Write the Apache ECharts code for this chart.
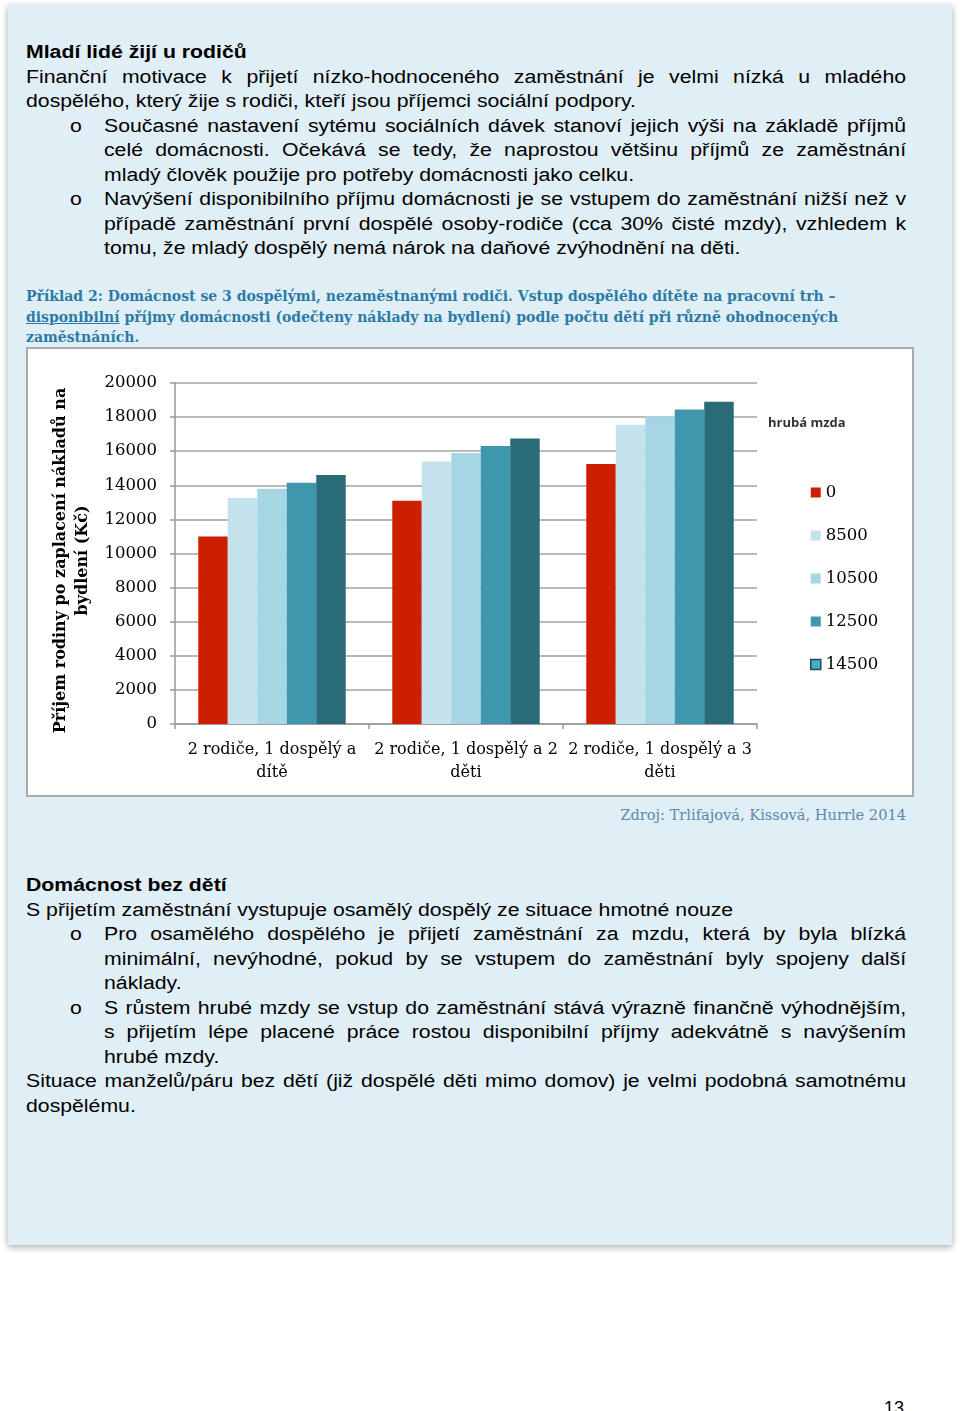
<!DOCTYPE html>
<html>
<head>
<meta charset="utf-8">
<script src="https://cdn.jsdelivr.net/npm/echarts@6/dist/echarts.min.js"></script>
<style>
  html, body { margin:0; padding:0; background:#fff; width:960px; height:1411px; overflow:hidden; position:relative; }
  #page { position:absolute; left:8px; top:5px; width:944px; height:1240px; background:#e0eef5; box-shadow:0 2px 7px rgba(0,0,0,0.35); }
  .txt { position:absolute; font-family:"Liberation Sans", Arial, sans-serif; font-size:18px; line-height:24.5px; color:#000; transform:scaleX(1.18); transform-origin:0 0; }
  .w1 { width:745.8px; }
  .w2 { width:679.7px; }
  .ln { white-space:nowrap; }
  .j { text-align:justify; text-align-last:justify; white-space:normal; height:24.5px; overflow:hidden; }
  .b { font-weight:bold; }
  .bul { position:absolute; left:-28.8px; }
  .cap { position:absolute; left:26px; top:286px; font-family:"DejaVu Serif", serif; font-weight:bold; font-size:14px; line-height:20.5px; color:#2b7ba6; white-space:nowrap; }
  #frame { position:absolute; left:26px; top:347px; width:884px; height:446px; border:2px solid #a9a9a9; background:#fff; }
  #chart { width:884px; height:446px; }
  .src { position:absolute; right:54px; top:805px; font-family:"DejaVu Serif", serif; font-size:14.6px; line-height:20px; color:#5b89b0; white-space:nowrap; }
  .pg { position:absolute; left:884px; top:1398px; font-family:"Liberation Sans", Arial, sans-serif; font-size:18px; color:#000; }
</style>
</head>
<body>
<div id="page"></div>

<div class="txt w1" style="left:26px; top:40px;">
  <div class="ln b">Mladí lidé žijí u rodičů</div>
  <div class="j">Finanční motivace k přijetí nízko-hodnoceného zaměstnání je velmi nízká u mladého</div>
  <div class="ln">dospělého, který žije s rodiči, kteří jsou příjemci sociální podpory.</div>
</div>
<div class="txt w2" style="left:104px; top:113.5px;">
  <span class="bul">o</span>
  <div class="j">Současné nastavení sytému sociálních dávek stanoví jejich výši na základě příjmů</div>
  <div class="j">celé domácnosti. Očekává se tedy, že naprostou většinu příjmů ze zaměstnání</div>
  <div class="ln">mladý člověk použije pro potřeby domácnosti jako celku.</div>
</div>
<div class="txt w2" style="left:104px; top:187px;">
  <span class="bul">o</span>
  <div class="j">Navýšení disponibilního příjmu domácnosti je se vstupem do zaměstnání nižší než v</div>
  <div class="j">případě zaměstnání první dospělé osoby-rodiče (cca 30% čisté mzdy), vzhledem k</div>
  <div class="ln">tomu, že mladý dospělý nemá nárok na daňové zvýhodnění na děti.</div>
</div>

<div class="cap">
  <div>Příklad 2: Domácnost se 3 dospělými, nezaměstnanými rodiči. Vstup dospělého dítěte na pracovní trh –</div>
  <div><span style="text-decoration:underline;">disponibilní</span> příjmy domácnosti (odečteny náklady na bydlení) podle počtu dětí při různě ohodnocených</div>
  <div>zaměstnáních.</div>
</div>

<div id="frame"><div id="chart"></div></div>
<div class="src">Zdroj: Trlifajová, Kissová, Hurrle 2014</div>

<div class="txt w1" style="left:26px; top:873px;">
  <div class="ln b">Domácnost bez dětí</div>
  <div class="ln">S přijetím zaměstnání vystupuje osamělý dospělý ze situace hmotné nouze</div>
</div>
<div class="txt w2" style="left:104px; top:922px;">
  <span class="bul">o</span>
  <div class="j">Pro osamělého dospělého je přijetí zaměstnání za mzdu, která by byla blízká</div>
  <div class="j">minimální, nevýhodné, pokud by se vstupem do zaměstnání byly spojeny další</div>
  <div class="ln">náklady.</div>
</div>
<div class="txt w2" style="left:104px; top:995.5px;">
  <span class="bul">o</span>
  <div class="j">S růstem hrubé mzdy se vstup do zaměstnání stává výrazně finančně výhodnějším,</div>
  <div class="j">s přijetím lépe placené práce rostou disponibilní příjmy adekvátně s navýšením</div>
  <div class="ln">hrubé mzdy.</div>
</div>
<div class="txt w1" style="left:26px; top:1069px;">
  <div class="j">Situace manželů/páru bez dětí (již dospělé děti mimo domov) je velmi podobná samotnému</div>
  <div class="ln">dospělému.</div>
</div>

<div class="pg">13</div>

<script>
const categories = ['2 rodiče, 1 dospělý a dítě', '2 rodiče, 1 dospělý a 2 děti', '2 rodiče, 1 dospělý a 3 děti'];
const wageLevels = ['0', '8500', '10500', '12500', '14500'];
const legendTitle = 'hrubá mzda';
const yAxisTitle = 'Příjem rodiny po zaplacení nákladů na\nbydlení (Kč)';
const income0 = [11000, 13100, 15250];
const income8500 = [13250, 15400, 17550];
const income10500 = [13800, 15900, 18050];
const income12500 = [14150, 16300, 18450];
const income14500 = [14600, 16750, 18900];
const yMin = 0, yMax = 20000, yStep = 2000;

const colors = ['#cc1f00', '#c3e2ec', '#a6d5e4', '#3f97ad', '#2a6b7a'];
const seriesData = [income0, income8500, income10500, income12500, income14500];
const serif = '"DejaVu Serif", "Liberation Serif", serif';

const chart = echarts.init(document.getElementById('chart'), null, { renderer: 'canvas' });
chart.setOption({
  animation: false,
  title: {
    text: legendTitle,
    left: 735, top: 63,
    textStyle: { fontFamily: '"Open Sans", "Liberation Sans", sans-serif', fontWeight: 'bold', fontSize: 13, color: '#333' }
  },
  legend: {
    orient: 'vertical',
    left: 777, top: 130,
    itemWidth: 10, itemHeight: 10, itemGap: 26,
    icon: 'rect',
    textStyle: { fontFamily: serif, fontSize: 16.5, color: '#000' },
    data: wageLevels.map((n, i) => i === 4
      ? { name: n, itemStyle: { color: '#49abc6', borderColor: '#1f4c5a', borderWidth: 1.5 } }
      : { name: n })
  },
  grid: { left: 147, top: 34, width: 582, height: 341, containLabel: false },
  xAxis: {
    type: 'category',
    data: categories,
    axisLine: { lineStyle: { color: '#999', width: 1.5 } },
    axisTick: { show: true, length: 5, lineStyle: { color: '#999', width: 1.5 } },
    axisLabel: {
      interval: 0, margin: 14, lineHeight: 23,
      fontFamily: serif, fontSize: 16, color: '#000',
      formatter: v => { const k = v.lastIndexOf(' '); return v.slice(0, k) + '\n' + v.slice(k + 1); }
    }
  },
  yAxis: {
    type: 'value', min: yMin, max: yMax, interval: yStep,
    name: yAxisTitle,
    nameLocation: 'middle', nameRotate: 90, nameGap: 56,
    nameTextStyle: { fontFamily: serif, fontWeight: 'bold', fontSize: 16, lineHeight: 22, color: '#000', padding: [0, 14, 0, 0] },
    axisLine: { show: true, lineStyle: { color: '#999', width: 1.5 } },
    axisTick: { show: true, length: 5, lineStyle: { color: '#999', width: 1.5 } },
    splitLine: { lineStyle: { color: '#a3a3a3', width: 1.5 } },
    axisLabel: { margin: 18, fontFamily: serif, fontSize: 16.5, color: '#000', formatter: v => String(v) }
  },
  series: wageLevels.map((n, i) => ({
    name: n, type: 'bar', data: seriesData[i],
    barGap: '0%', barCategoryGap: '24%',
    itemStyle: { color: colors[i] }
  }))
});
</script>
</body>
</html>
